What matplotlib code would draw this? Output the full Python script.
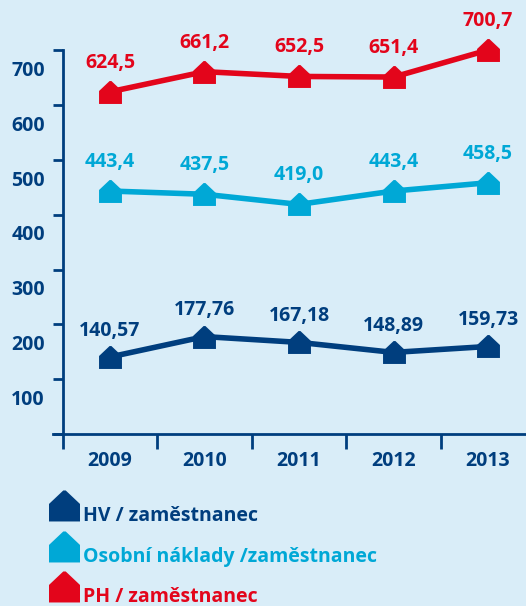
import matplotlib
matplotlib.use('Agg')
import matplotlib.pyplot as plt
from matplotlib.path import Path
from matplotlib.lines import Line2D
from matplotlib.transforms import ScaledTranslation

years = ['2009', '2010', '2011', '2012', '2013']
hv = [140.57, 177.76, 167.18, 148.89, 159.73]
osobni = [443.4, 437.5, 419.0, 443.4, 458.5]
ph = [624.5, 661.2, 652.5, 651.4, 700.7]
hv_labels = ['140,57', '177,76', '167,18', '148,89', '159,73']
osobni_labels = ['443,4', '437,5', '419,0', '443,4', '458,5']
ph_labels = ['624,5', '661,2', '652,5', '651,4', '700,7']
series_names = ['HV / zaměstnanec', 'Osobní náklady /zaměstnanec', 'PH / zaměstnanec']
ytick_values = [0, 100, 200, 300, 400, 500, 600, 700]
ytick_labels = ['', '100', '200', '300', '400', '500', '600', '700']

BG = '#d9edf8'
DARK = '#003e7e'
CYAN = '#00a8d6'
RED = '#e3051b'
FONT = 'Open Sans'

plt.rcParams['font.family'] = [FONT, 'DejaVu Sans']
plt.rcParams['font.weight'] = 'bold'

house = Path([(-1, -1), (1, -1), (1, 0.13), (0.08, 1), (-0.08, 1), (-1, 0.13), (-1, -1)],
             [Path.MOVETO, Path.LINETO, Path.LINETO, Path.LINETO, Path.LINETO, Path.LINETO, Path.CLOSEPOLY])
house_leg = Path([(-1, -0.45), (1, -0.45), (1, 0.68), (0.08, 1.55), (-0.08, 1.55), (-1, 0.68), (-1, -0.45)],
                 [Path.MOVETO, Path.LINETO, Path.LINETO, Path.LINETO, Path.LINETO, Path.LINETO, Path.CLOSEPOLY])

fig = plt.figure(figsize=(5.26, 6.06), dpi=100, facecolor=BG)
ax = fig.add_axes([53 / 526, 172 / 606, 473 / 526, 434 / 606])
ax.set_facecolor(BG)

x = list(range(len(years)))
series = [(hv, hv_labels, DARK, 19), (osobni, osobni_labels, CYAN, 21), (ph, ph_labels, RED, 21)]
for vals, labs, col, off in series:
    ax.plot(x, vals, color=col, lw=4, marker=house, ms=16.5, mew=0, mfc=col,
            zorder=3)
    for xi, v, lab in zip(x, vals, labs):
        ax.annotate(lab, (xi, v), xytext=(0, off), textcoords='offset points',
                    ha='center', va='center', color=col, fontsize=14, fontweight='bold')

ax.set_xlim(-0.603, 4.402)
ax.set_ylim(0, 792)

for s in ['top', 'right']:
    ax.spines[s].set_visible(False)
ax.spines['left'].set_position(('data', -0.5))
ax.spines['left'].set_bounds(0, 700)
for s in ['left', 'bottom']:
    ax.spines[s].set_color(DARK)
    ax.spines[s].set_linewidth(2)

ax.set_yticks(ytick_values)
ax.set_yticklabels(ytick_labels)
ax.tick_params(axis='y', direction='out', length=7, width=2, color=DARK, pad=5.8,
               labelcolor=DARK, labelsize=14)
for lbl in ax.get_yticklabels():
    lbl.set_fontweight('bold')
    lbl.set_transform(lbl.get_transform() + ScaledTranslation(0, -18 / 100, fig.dpi_scale_trans))

ax.set_xticks([-0.5, 0.5, 1.5, 2.5, 3.5])
ax.set_xticklabels([])
ax.set_xticks(x, minor=True)
ax.set_xticklabels(years, minor=True)
ax.tick_params(axis='x', which='major', direction='out', length=10.8, width=2, color=DARK)
ax.tick_params(axis='x', which='minor', length=0, pad=12, labelcolor=DARK, labelsize=14)
for lbl in ax.get_xticklabels(minor=True):
    lbl.set_fontweight('bold')

handles = [Line2D([], [], linestyle='none', marker=house_leg, ms=34.6, mew=0, mfc=c)
           for c in (DARK, CYAN, RED)]
leg = fig.legend(handles, series_names, loc='upper left',
                 bbox_to_anchor=(48.5 / 526, 1 - 506 / 606), frameon=False, borderpad=0,
                 borderaxespad=0, handlelength=1.6, handletextpad=0.18, labelspacing=1.06,
                 prop={'family': FONT, 'weight': 'bold', 'size': 14})
for t, c in zip(leg.get_texts(), (DARK, CYAN, RED)):
    t.set_color(c)

fig.savefig('out.png', dpi=100, facecolor=BG)
